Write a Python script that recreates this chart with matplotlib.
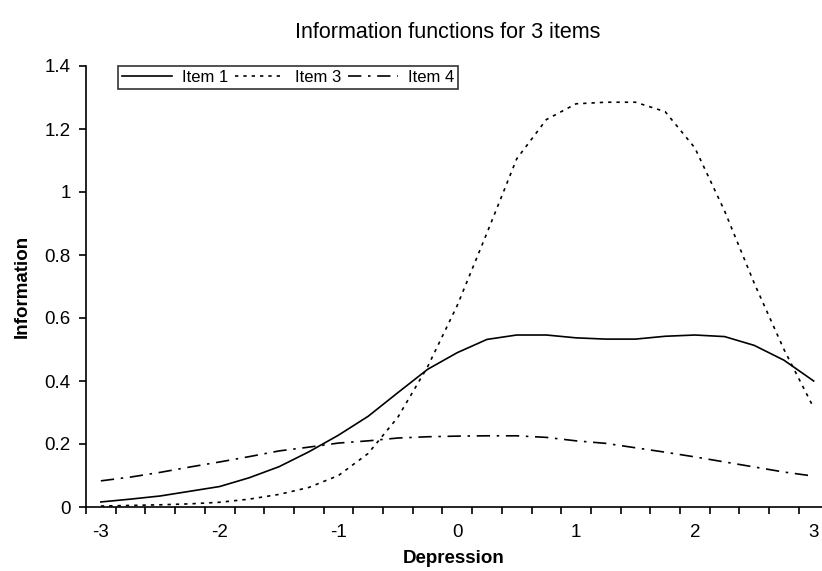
import matplotlib.pyplot as plt
from matplotlib.ticker import FixedLocator

plt.rcParams['font.family'] = ['Liberation Sans', 'DejaVu Sans']

# theta points, every 0.25 from -3 to 3
theta = [-3.0, -2.75, -2.5, -2.25, -2.0, -1.75, -1.5, -1.25, -1.0, -0.75, -0.5, -0.25,
         0.0, 0.25, 0.5, 0.75, 1.0, 1.25, 1.5, 1.75, 2.0, 2.25, 2.5, 2.75, 3.0]

item1 = [0.016, 0.025, 0.035, 0.05, 0.065, 0.093, 0.128, 0.175, 0.228, 0.288, 0.363, 0.437,
         0.49, 0.532, 0.546, 0.546, 0.537, 0.533, 0.533, 0.542, 0.546, 0.541, 0.513, 0.466, 0.4]
item3 = [0.003, 0.005, 0.007, 0.01, 0.015, 0.025, 0.04, 0.062, 0.1, 0.17, 0.285, 0.445,
         0.64, 0.87, 1.105, 1.23, 1.28, 1.285, 1.285, 1.255, 1.14, 0.94, 0.71, 0.5, 0.315]
item4 = [0.083, 0.095, 0.11, 0.127, 0.143, 0.16, 0.178, 0.19, 0.203, 0.21, 0.219, 0.223,
         0.225, 0.226, 0.226, 0.221, 0.21, 0.202, 0.188, 0.174, 0.159, 0.143, 0.127, 0.111, 0.098]

x_labels = ['-3', '-2', '-1', '0', '1', '2', '3']
y_labels = ['0', '0.2', '0.4', '0.6', '0.8', '1', '1.2', '1.4']

fig = plt.figure(figsize=(8.22, 5.71), dpi=100)
ax = fig.add_axes([86 / 822, 64 / 571, 736 / 822, 441 / 571])

ax.plot(theta, item1, color='black', lw=1.2, label='Item 1')
ax.plot(theta, item3, color='black', lw=1.2, linestyle=(0, (2, 3)), label='Item 3')
ax.plot(theta, item4, color='black', lw=1.2, linestyle=(0, (8, 4, 1.5, 4)), label='Item 4')

ax.set_xlim(-3.125, 3.07)
ax.set_ylim(0, 1.4)

for side in ['top', 'right']:
    ax.spines[side].set_visible(False)
ax.spines['left'].set_linewidth(1.2)
ax.spines['bottom'].set_linewidth(1.2)

# category style x axis: ticks between points, labels on integers
ax.set_xticks([-3, -2, -1, 0, 1, 2, 3])
ax.set_xticklabels(x_labels)
ax.xaxis.set_minor_locator(FixedLocator([-3.125 + 0.25 * k for k in range(25)]))
ax.tick_params(axis='x', which='major', length=0, pad=12, labelsize=13.5)
ax.tick_params(axis='x', which='minor', length=5, width=1.2, direction='out')

ax.set_yticks([0, 0.2, 0.4, 0.6, 0.8, 1.0, 1.2, 1.4])
ax.set_yticklabels(y_labels)
ax.tick_params(axis='y', length=5, width=1.2, direction='out', labelsize=13.5, pad=6)

ax.set_xlabel('Depression', fontsize=13.5, fontweight='bold', labelpad=7)
ax.set_ylabel('Information', fontsize=13.5, fontweight='bold', labelpad=10)
fig.text(448 / 822, 1 - 32 / 571, 'Information functions for 3 items', fontsize=15.5,
         ha='center', va='center')

leg = ax.legend(ncol=3, loc='upper left', bbox_to_anchor=(32 / 736, 1.0),
                fontsize=12, frameon=True, fancybox=False, handlelength=3.0,
                handletextpad=0.6, columnspacing=0.4, borderpad=0.25, borderaxespad=0)
leg.get_frame().set_edgecolor('black')
leg.get_frame().set_linewidth(1.2)

fig.savefig('out.png', dpi=100)
